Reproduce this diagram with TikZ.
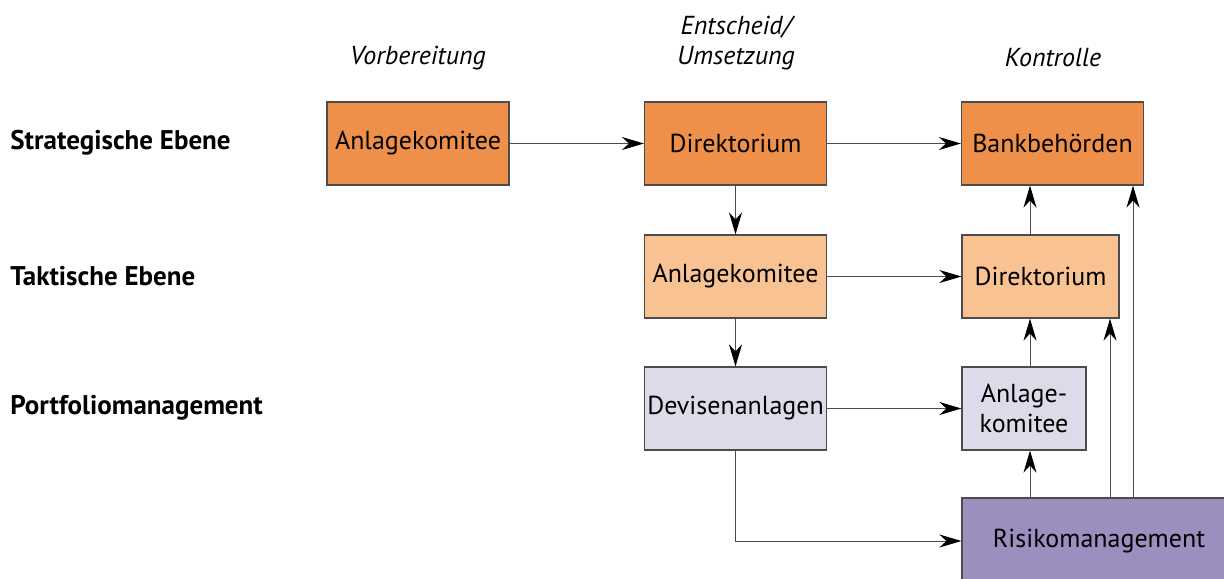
\documentclass[tikz,border=0pt]{standalone}
\usepackage{fontspec}
\setmainfont{PT Sans}
\usetikzlibrary{arrows.meta}
\definecolor{strat}{RGB}{238,143,74}
\definecolor{takt}{RGB}{248,194,146}
\definecolor{port}{RGB}{222,218,234}
\definecolor{risk}{RGB}{155,143,192}

\begin{document}
\begin{tikzpicture}[x=0.5pt,y=-0.5pt,
    box/.style={draw=black!70,line width=0.6pt,minimum height=41.5pt,minimum width=91pt,
      inner sep=0pt,align=center,font=\fontsize{13}{15}\selectfont},
    head/.style={align=center,font=\fontsize{13}{15}\selectfont\itshape},
    level/.style={anchor=west,inner sep=0pt,font=\fontsize{13.5}{15}\selectfont\bfseries},
    flow/.style={draw=black!70,line width=0.5pt,
      -{Stealth[black,length=11pt,width=6.5pt,inset=3.5pt]}}]
  \useasboundingbox (0,0) rectangle (1224,578);
  % column heads
  \node[head] (hvor) at (418,58) {Vorbereitung};
  \node[head] (hent) at (736,43) {Entscheid/\\Umsetzung};
  \node[head] (hkon) at (1053,58) {Kontrolle};
  % levels
  \node[level] (lstr) at (10,143) {Strategische Ebene};
  \node[level] (ltak) at (10,276) {Taktische Ebene};
  \node[level] (lpor) at (10,408) {Portfoliomanagement};
  % boxes
  \node[box,fill=strat] (ak1) at (418,143.5) {Anlagekomitee};
  \node[box,fill=strat] (dir1) at (735.5,143.5) {Direktorium};
  \node[box,fill=strat] (bank) at (1052.5,143.5) {Bankbehörden};
  \node[box,fill=takt] (ak2) at (735.5,276.5) {Anlagekomitee};
  \node[box,fill=takt,minimum width=78.5pt] (dir2) at (1040.5,276.5) {Direktorium};
  \node[box,fill=port] (dev) at (735.5,408.5) {Devisenanlagen};
  \node[box,fill=port,minimum width=62pt] (ak3) at (1024,408.5) {Anlage-\\komitee};
  \node[box,fill=risk,minimum width=137pt,minimum height=43pt] (rm) at (1099,541) {Risikomanagement};
  % vertical feedback lines
  \coordinate (up1) at (1030,541);
  \coordinate (up2) at (1110,541);
  \coordinate (up3) at (1133,541);
  \path[flow]
    (ak1) edge (dir1)
    (dir1) edge (bank)
    (dir1) edge (ak2)
    (ak2) edge (dir2)
    (ak2) edge (dev)
    (dev) edge (ak3);
  \draw[flow] (dev) |- (rm);
  \draw[flow] (rm.north -| up1) -- (ak3.south -| up1);
  \draw[flow] (ak3.north -| up1) -- (dir2.south -| up1);
  \draw[flow] (dir2.north -| up1) -- (bank.south -| up1);
  \draw[flow] (rm.north -| up2) -- (dir2.south -| up2);
  \draw[flow] (rm.north -| up3) -- (bank.south -| up3);
\end{tikzpicture}
\end{document}
